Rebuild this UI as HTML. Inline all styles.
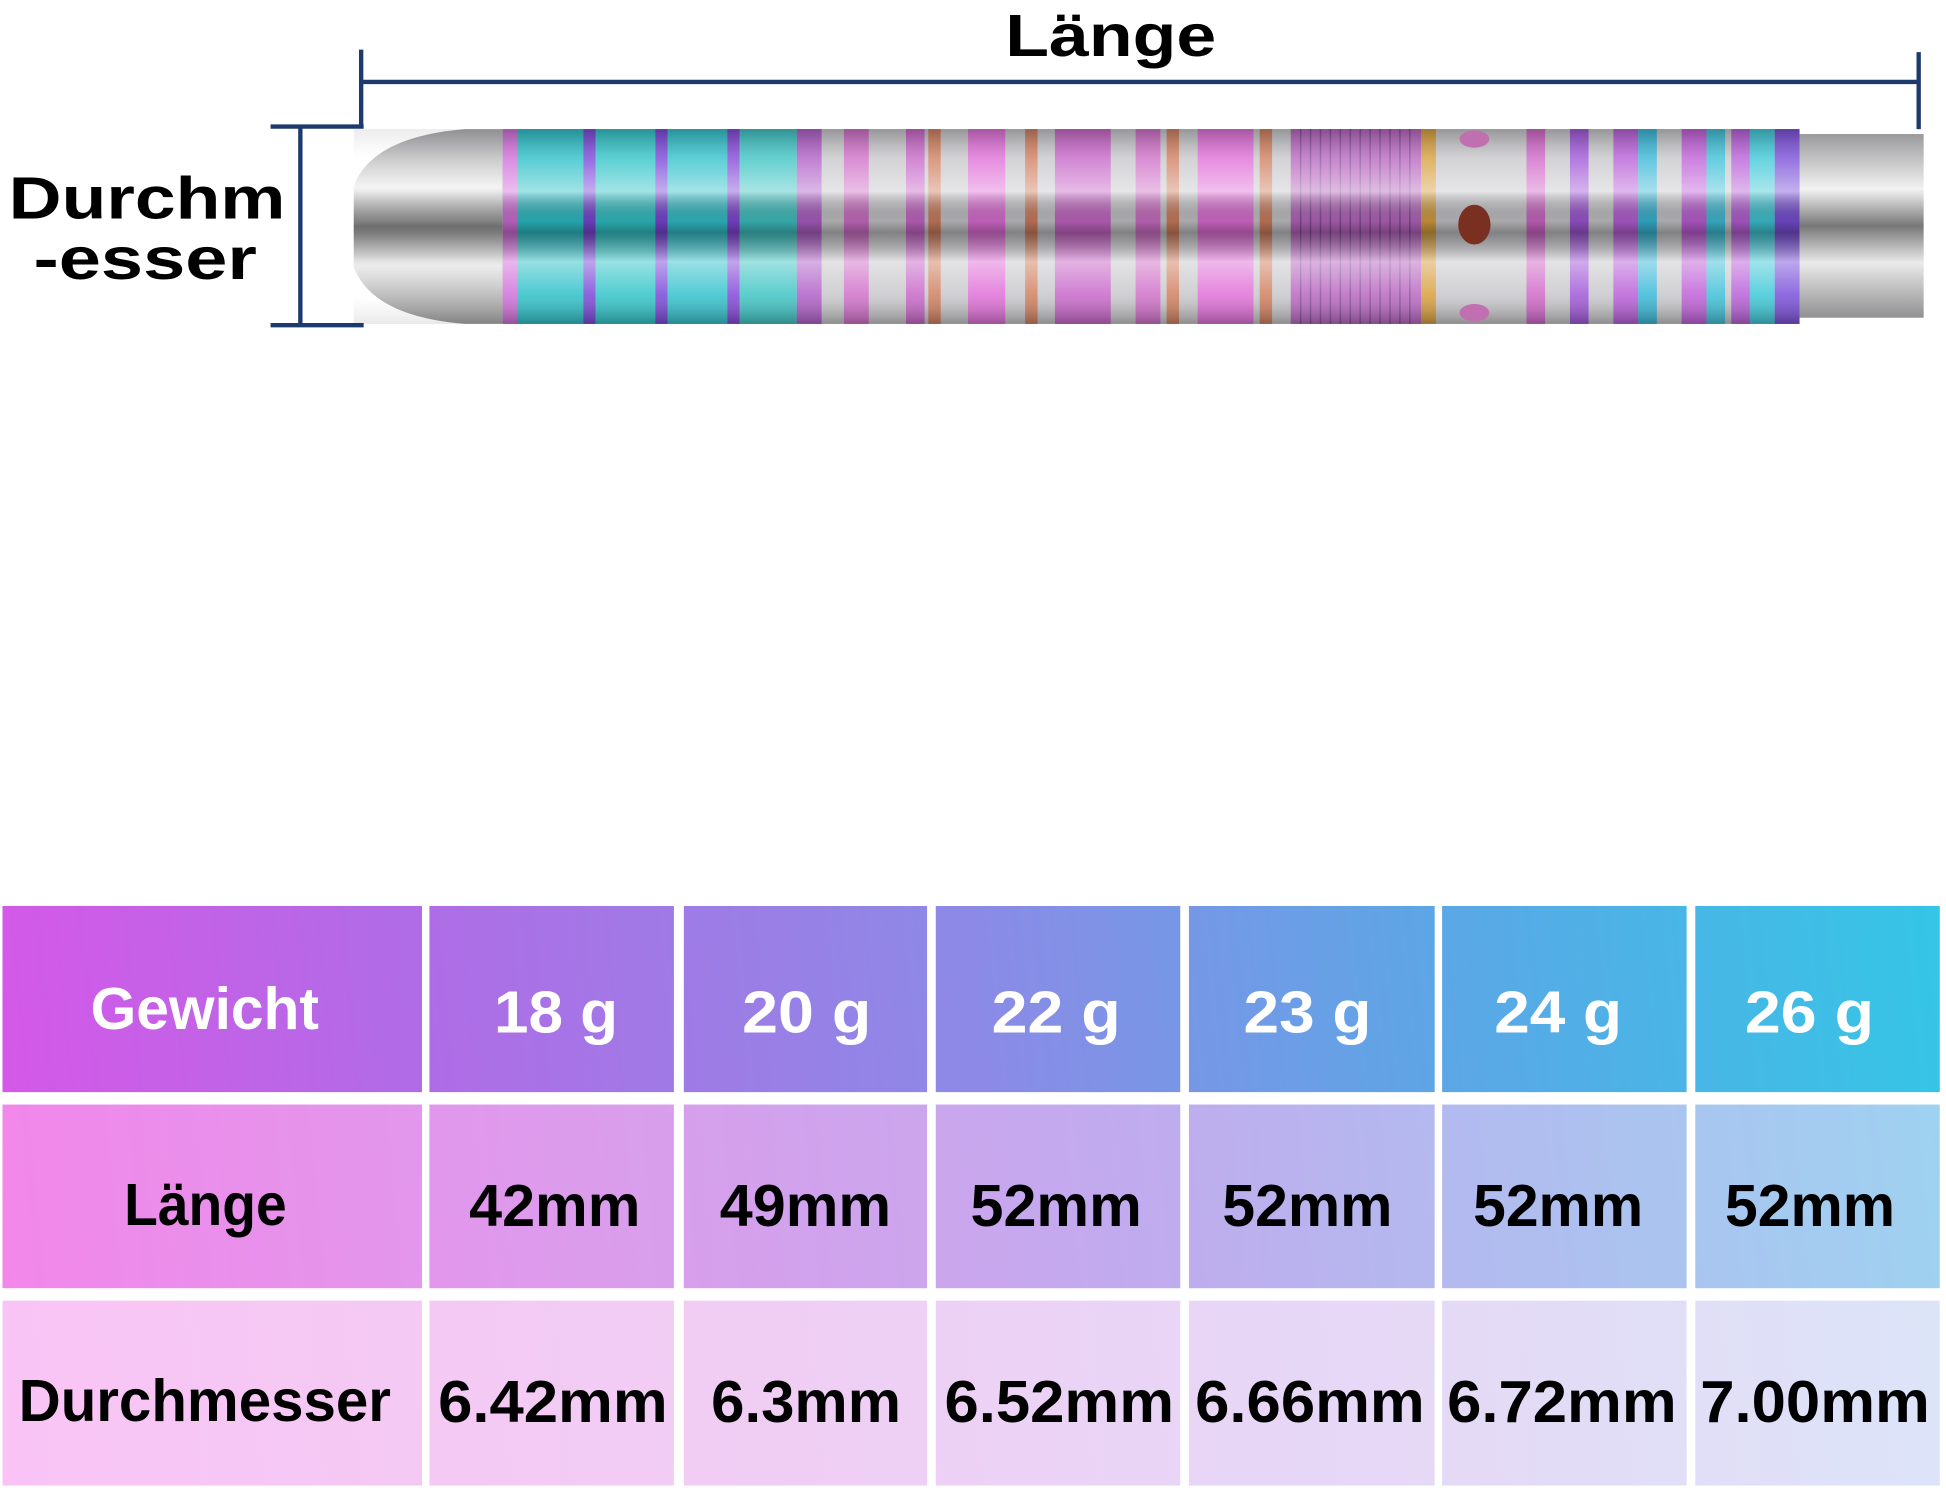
<!DOCTYPE html>
<html><head><meta charset="utf-8"><style>
html,body{margin:0;padding:0;background:#fff;}
svg{display:block;}
text{font-family:"Liberation Sans",sans-serif;font-weight:bold;}
</style></head><body>
<svg width="1946" height="1491" viewBox="0 0 1568 1201.4" xmlns="http://www.w3.org/2000/svg">
<defs>
<linearGradient id="r1" gradientUnits="userSpaceOnUse" x1="0" y1="880" x2="1568" y2="730">
<stop offset="0" stop-color="#d558e8"/><stop offset="0.2" stop-color="#b26ae6"/><stop offset="0.5" stop-color="#8c8ae6"/><stop offset="0.75" stop-color="#5aa8e6"/><stop offset="1" stop-color="#34c6e6"/></linearGradient>
<linearGradient id="r2" gradientUnits="userSpaceOnUse" x1="0" y1="1038" x2="1568" y2="890">
<stop offset="0" stop-color="#f287ea"/><stop offset="0.3" stop-color="#dc9cec"/><stop offset="0.6" stop-color="#bfacee"/><stop offset="1" stop-color="#9ed2f0"/></linearGradient>
<linearGradient id="r3" gradientUnits="userSpaceOnUse" x1="0" y1="1197" x2="1568" y2="1048">
<stop offset="0" stop-color="#f9c4f5"/><stop offset="0.4" stop-color="#f0cef4"/><stop offset="0.7" stop-color="#e6d8f6"/><stop offset="1" stop-color="#dce4f8"/></linearGradient>
<linearGradient id="shade" x1="0" y1="0" x2="0" y2="1">
<stop offset="0" stop-color="#000" stop-opacity="0.25"/><stop offset="0.15" stop-color="#fff" stop-opacity="0.2"/><stop offset="0.32" stop-color="#fff" stop-opacity="0.55"/><stop offset="0.47" stop-color="#000" stop-opacity="0.15"/><stop offset="0.53" stop-color="#000" stop-opacity="0.35"/><stop offset="0.68" stop-color="#fff" stop-opacity="0.5"/><stop offset="0.85" stop-color="#fff" stop-opacity="0.15"/><stop offset="1" stop-color="#000" stop-opacity="0.3"/></linearGradient>
<linearGradient id="silv" x1="0" y1="0" x2="0" y2="1">
<stop offset="0" stop-color="#9a9a9c"/><stop offset="0.3" stop-color="#f2f2f2"/><stop offset="0.5" stop-color="#777"/><stop offset="0.7" stop-color="#eaeaea"/><stop offset="1" stop-color="#909092"/></linearGradient>
</defs>

<!-- Top labels -->
<text x="895" y="45" font-size="48" text-anchor="middle" textLength="170" lengthAdjust="spacingAndGlyphs" fill="#000">Länge</text>
<text x="7" y="176" font-size="48" textLength="223" lengthAdjust="spacingAndGlyphs" fill="#000">Durchm</text>
<text x="27" y="225" font-size="48" textLength="180" lengthAdjust="spacingAndGlyphs" fill="#000">-esser</text>

<g stroke="#1d3a6c" stroke-width="3.5" fill="none">
<line x1="291" y1="40" x2="291" y2="102"/>
<line x1="291" y1="66" x2="1546" y2="66"/>
<line x1="1546" y1="42" x2="1546" y2="104"/>
<line x1="218" y1="102" x2="293" y2="102"/>
<line x1="242" y1="102" x2="242" y2="262"/>
<line x1="218" y1="262" x2="293" y2="262"/>
</g>

<!-- Dart -->
<path d="M405,104 L375,104 Q300,110 285,150 L285,215 Q300,255 375,261 L405,261 Z" fill="url(#silv)"/>
<rect x="1450" y="108" width="100" height="148" fill="url(#silv)"/>
<g>
<rect x="405" y="104" width="1045" height="157" fill="#c8c8cc"/>
<rect x="405" y="104" width="12" height="157" fill="#d070d8"/>
<rect x="417" y="104" width="53" height="157" fill="#2ec0c8"/>
<rect x="470" y="104" width="10" height="157" fill="#7a48d8"/>
<rect x="480" y="104" width="48" height="157" fill="#32c4c8"/>
<rect x="528" y="104" width="10" height="157" fill="#7a48d8"/>
<rect x="538" y="104" width="48" height="157" fill="#34c2cc"/>
<rect x="586" y="104" width="10" height="157" fill="#8448d8"/>
<rect x="596" y="104" width="46" height="157" fill="#40c4c4"/>
<rect x="642" y="104" width="20" height="157" fill="#b060c8"/>
<rect x="680" y="104" width="20" height="157" fill="#d070c8"/>
<rect x="730" y="104" width="15" height="157" fill="#c868c8"/>
<rect x="748" y="104" width="10" height="157" fill="#d08060"/>
<rect x="780" y="104" width="30" height="157" fill="#e070d8"/>
<rect x="826" y="104" width="10" height="157" fill="#d08060"/>
<rect x="850" y="104" width="45" height="157" fill="#c868c8"/>
<rect x="915" y="104" width="20" height="157" fill="#d070c8"/>
<rect x="940" y="104" width="10" height="157" fill="#d08060"/>
<rect x="965" y="104" width="45" height="157" fill="#e070d8"/>
<rect x="1015" y="104" width="10" height="157" fill="#d08060"/>
<rect x="1040" y="104" width="105" height="157" fill="#b868c0"/>
<rect x="1145" y="104" width="12" height="157" fill="#d8a040"/>
<rect x="1230" y="104" width="15" height="157" fill="#d068c8"/>
<rect x="1265" y="104" width="15" height="157" fill="#a058d8"/>
<rect x="1300" y="104" width="20" height="157" fill="#b860d8"/>
<rect x="1320" y="104" width="15" height="157" fill="#3ab8d8"/>
<rect x="1355" y="104" width="20" height="157" fill="#c060d8"/>
<rect x="1375" y="104" width="15" height="157" fill="#40c0d8"/>
<rect x="1395" y="104" width="15" height="157" fill="#b860d8"/>
<rect x="1410" y="104" width="20" height="157" fill="#40c8d8"/>
<rect x="1430" y="104" width="20" height="157" fill="#7a50d8"/>
<g stroke="#6a3a80" stroke-width="1.2" opacity="0.6">
<line x1="1048" y1="104" x2="1048" y2="261"/><line x1="1056" y1="104" x2="1056" y2="261"/><line x1="1064" y1="104" x2="1064" y2="261"/><line x1="1072" y1="104" x2="1072" y2="261"/><line x1="1080" y1="104" x2="1080" y2="261"/><line x1="1088" y1="104" x2="1088" y2="261"/><line x1="1096" y1="104" x2="1096" y2="261"/><line x1="1104" y1="104" x2="1104" y2="261"/><line x1="1112" y1="104" x2="1112" y2="261"/><line x1="1120" y1="104" x2="1120" y2="261"/><line x1="1128" y1="104" x2="1128" y2="261"/><line x1="1136" y1="104" x2="1136" y2="261"/>
</g>
<rect x="405" y="104" width="1045" height="157" fill="url(#shade)"/>
<rect x="285" y="104" width="120" height="157" fill="url(#shade)" opacity="0.3"/>
<ellipse cx="1188" cy="181" rx="13" ry="16" fill="#7a3020"/>
<ellipse cx="1188" cy="112" rx="12" ry="7" fill="#c070b0"/>
<ellipse cx="1188" cy="252" rx="12" ry="7" fill="#c070b0"/>
</g>

<!-- Table -->
<g>
<rect x="2" y="730" width="338" height="150" fill="url(#r1)"/>
<rect x="346" y="730" width="197" height="150" fill="url(#r1)"/>
<rect x="551" y="730" width="196" height="150" fill="url(#r1)"/>
<rect x="754" y="730" width="197" height="150" fill="url(#r1)"/>
<rect x="958" y="730" width="198" height="150" fill="url(#r1)"/>
<rect x="1162" y="730" width="197" height="150" fill="url(#r1)"/>
<rect x="1366" y="730" width="197" height="150" fill="url(#r1)"/>

<rect x="2" y="890" width="338" height="148" fill="url(#r2)"/>
<rect x="346" y="890" width="197" height="148" fill="url(#r2)"/>
<rect x="551" y="890" width="196" height="148" fill="url(#r2)"/>
<rect x="754" y="890" width="197" height="148" fill="url(#r2)"/>
<rect x="958" y="890" width="198" height="148" fill="url(#r2)"/>
<rect x="1162" y="890" width="197" height="148" fill="url(#r2)"/>
<rect x="1366" y="890" width="197" height="148" fill="url(#r2)"/>

<rect x="2" y="1048" width="338" height="149" fill="url(#r3)"/>
<rect x="346" y="1048" width="197" height="149" fill="url(#r3)"/>
<rect x="551" y="1048" width="196" height="149" fill="url(#r3)"/>
<rect x="754" y="1048" width="197" height="149" fill="url(#r3)"/>
<rect x="958" y="1048" width="198" height="149" fill="url(#r3)"/>
<rect x="1162" y="1048" width="197" height="149" fill="url(#r3)"/>
<rect x="1366" y="1048" width="197" height="149" fill="url(#r3)"/>
</g>

<g font-size="48" fill="#fff">
<text x="73" y="829" textLength="184" lengthAdjust="spacingAndGlyphs">Gewicht</text>
<text x="398" y="832" textLength="100" lengthAdjust="spacingAndGlyphs">18 g</text>
<text x="598" y="832" textLength="104" lengthAdjust="spacingAndGlyphs">20 g</text>
<text x="799" y="832" textLength="104" lengthAdjust="spacingAndGlyphs">22 g</text>
<text x="1002" y="832" textLength="103" lengthAdjust="spacingAndGlyphs">23 g</text>
<text x="1204" y="832" textLength="103" lengthAdjust="spacingAndGlyphs">24 g</text>
<text x="1406" y="832" textLength="104" lengthAdjust="spacingAndGlyphs">26 g</text>
</g>
<g font-size="48" fill="#000">
<text x="100" y="987" textLength="131" lengthAdjust="spacingAndGlyphs">Länge</text>
<text x="378" y="988" textLength="138" lengthAdjust="spacingAndGlyphs">42mm</text>
<text x="580" y="988" textLength="138" lengthAdjust="spacingAndGlyphs">49mm</text>
<text x="782" y="988" textLength="138" lengthAdjust="spacingAndGlyphs">52mm</text>
<text x="985" y="988" textLength="137" lengthAdjust="spacingAndGlyphs">52mm</text>
<text x="1187" y="988" textLength="137" lengthAdjust="spacingAndGlyphs">52mm</text>
<text x="1390" y="988" textLength="137" lengthAdjust="spacingAndGlyphs">52mm</text>
<text x="15" y="1145" textLength="300" lengthAdjust="spacingAndGlyphs">Durchmesser</text>
<text x="353" y="1146" textLength="185" lengthAdjust="spacingAndGlyphs">6.42mm</text>
<text x="573" y="1146" textLength="153" lengthAdjust="spacingAndGlyphs">6.3mm</text>
<text x="761" y="1146" textLength="185" lengthAdjust="spacingAndGlyphs">6.52mm</text>
<text x="963" y="1146" textLength="185" lengthAdjust="spacingAndGlyphs">6.66mm</text>
<text x="1166" y="1146" textLength="185" lengthAdjust="spacingAndGlyphs">6.72mm</text>
<text x="1370" y="1146" textLength="185" lengthAdjust="spacingAndGlyphs">7.00mm</text>
</g>
</svg>
</body></html>
